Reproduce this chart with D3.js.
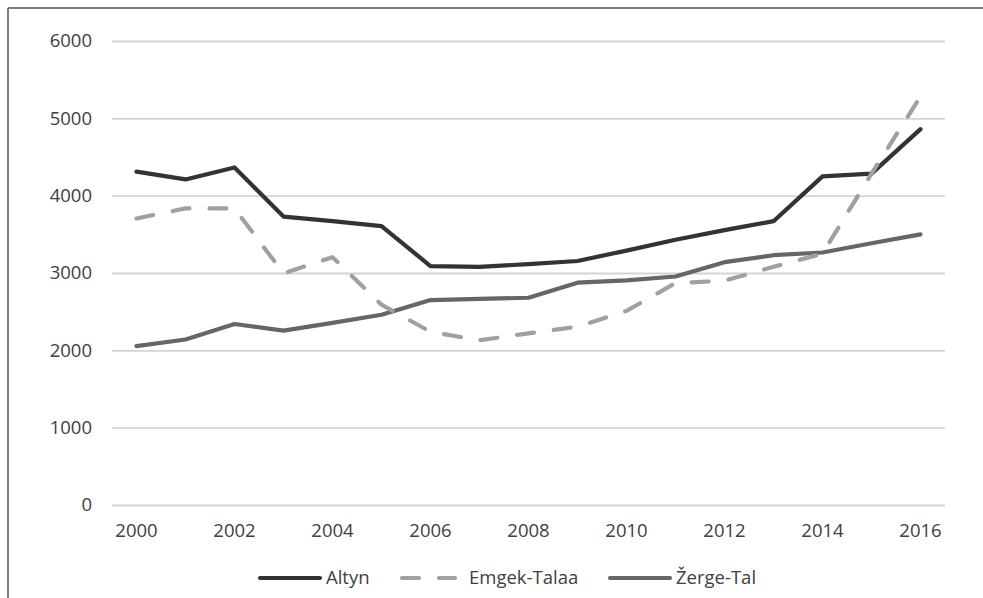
<!DOCTYPE html>
<html><head><meta charset="utf-8">
<script src="https://cdn.jsdelivr.net/npm/d3@7"></script>
<style>body{margin:0;background:#fff}svg{display:block}text{font-family:"Open Sans",sans-serif;fill:#404040}</style>
</head><body><svg id="c" width="983" height="598"></svg>
<script>
const years = [2000,2001,2002,2003,2004,2005,2006,2007,2008,2009,2010,2011,2012,2013,2014,2015,2016];
const altyn = [4310,4210,4365,3730,3670,3605,3090,3080,3115,3155,3290,3430,3555,3670,4250,4285,4860];
const emgek = [3705,3835,3835,2995,3205,2590,2240,2130,2220,2305,2510,2870,2900,3080,3250,4285,5280];
const zerge = [2055,2140,2340,2255,2355,2460,2650,2665,2680,2875,2905,2955,3140,3230,3265,3385,3500];
const yTicks = [0,1000,2000,3000,4000,5000,6000];
const xTickLabels = [2000,2002,2004,2006,2008,2010,2012,2014,2016];
const seriesNames = ["Altyn","Emgek-Talaa","Žerge-Tal"];

const svg = d3.select("#c");
// frame
svg.append("line").attr("x1",8).attr("x2",983).attr("y1",8).attr("y2",8).attr("stroke","#555").attr("stroke-width",1.5);
svg.append("line").attr("x1",8).attr("x2",8).attr("y1",8).attr("y2",598).attr("stroke","#555").attr("stroke-width",1.5);

const x = d3.scaleBand().domain(years).range([112,945]).padding(0);
const y = d3.scaleLinear().domain([0,6000]).range([505,41]);
const cx = d => x(d) + x.bandwidth()/2;

// grid + y labels
const ya = svg.append("g").attr("transform","translate(112,0)")
  .call(d3.axisLeft(y).tickValues(yTicks).tickSize(-833).tickPadding(20).tickFormat(d3.format("d")));
ya.select(".domain").remove();
ya.selectAll(".tick line").attr("stroke","#d4d4d4").attr("stroke-width",1.8);
ya.selectAll("text").style("font-size","18.5px").attr("fill","#404040");

// x labels
const xa = svg.append("g").attr("transform","translate(0,505)")
  .call(d3.axisBottom(x).tickValues(xTickLabels).tickSize(0).tickPadding(19));
xa.select(".domain").remove();
xa.selectAll("text").style("font-size","18.5px").attr("fill","#404040");

const series = [
  {name:seriesNames[0], vals:altyn, color:"#333333", dash:null},
  {name:seriesNames[1], vals:emgek, color:"#a0a0a0", dash:"17,20"},
  {name:seriesNames[2], vals:zerge, color:"#666666", dash:null}
];
const line = d3.line().x((d,i)=>cx(years[i])).y(d=>y(d));
[series[2], series[0], series[1]].forEach(s=>{
  svg.append("path").datum(s.vals).attr("d",line).attr("fill","none")
    .attr("stroke",s.color).attr("stroke-width",4.2).attr("stroke-linejoin","round")
    .attr("stroke-linecap","round").attr("stroke-dasharray",s.dash);
});

// legend
const legX = [258, 400, 608];
series.forEach((s,i)=>{
  const g = svg.append("g").attr("transform",`translate(${legX[i]},578)`);
  g.append("line").attr("x1",2).attr("x2",s.dash?55:62).attr("y1",0).attr("y2",0)
    .attr("stroke",s.color).attr("stroke-width",4.2).attr("stroke-linecap","round").attr("stroke-dasharray",s.dash);
  g.append("text").attr("x",s.dash?69:68).attr("y",0).attr("dy","0.35em").style("font-size","18.5px").text(s.name);
});
</script></body></html>
